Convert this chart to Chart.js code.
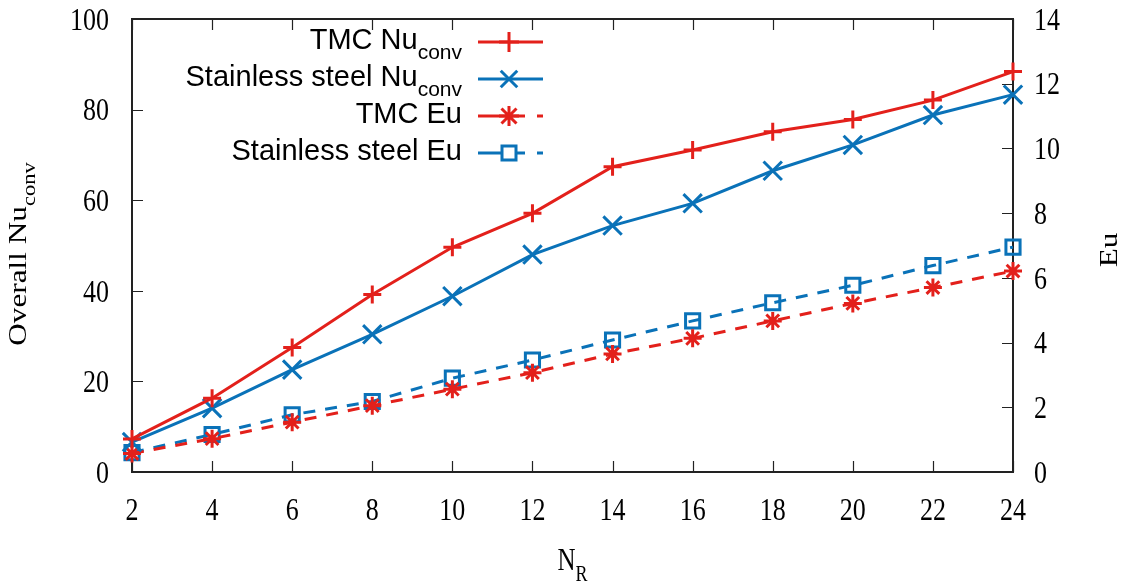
<!DOCTYPE html>
<html>
<head>
<meta charset="utf-8">
<script src="https://cdn.jsdelivr.net/npm/chart.js@4.4.1/dist/chart.umd.min.js"></script>
<style>
  html, body { margin: 0; padding: 0; background: #fff; }
  #wrap { width: 1130px; height: 581px; }
</style>
</head>
<body>
<div id="wrap"><canvas id="chart" width="1130" height="581"></canvas></div>
<script>
// data
const nr = [2, 4, 6, 8, 10, 12, 14, 16, 18, 20, 22, 24];
const tmcNu = [7.3, 16.3, 27.5, 39.2, 49.6, 57.1, 67.4, 71.1, 75.1, 77.8, 82.1, 88.4];
const steelNu = [6.6, 14.1, 22.6, 30.4, 38.8, 48.0, 54.4, 59.3, 66.5, 72.2, 78.8, 83.3];
const tmcEu = [0.57, 1.03, 1.54, 2.05, 2.56, 3.07, 3.65, 4.13, 4.67, 5.21, 5.70, 6.21];
const steelEu = [0.60, 1.16, 1.77, 2.18, 2.90, 3.46, 4.08, 4.67, 5.23, 5.77, 6.38, 6.95];
const leftTicks = [0, 20, 40, 60, 80, 100];
const rightTicks = [0, 2, 4, 6, 8, 10, 12, 14];

const RED = '#e3201b';
const BLUE = '#0a72b8';
const SERIF = '"Liberation Serif", "Times New Roman", serif';
const SANS = '"Liberation Sans", Arial, sans-serif';
const STRETCH = 1.22; // serif text in the figure is drawn a bit tall

const pts = (ys) => ys.map((y, i) => ({ x: nr[i], y: y }));

// legend entries: text parts, colour, marker, dashed
const legendItems = [
  { parts: [['TMC Nu', false], ['conv', true]], color: RED, marker: 'cross', dashed: false },
  { parts: [['Stainless steel Nu', false], ['conv', true]], color: BLUE, marker: 'crossRot', dashed: false },
  { parts: [['TMC Eu', false]], color: RED, marker: 'star', dashed: true },
  { parts: [['Stainless steel Eu', false]], color: BLUE, marker: 'rect', dashed: true }
];

// draw text with subscript pieces
function richText(ctx, parts, x, y, size, font, align) {
  const subSize = Math.round(size * 0.72);
  let w = 0;
  parts.forEach(p => {
    ctx.font = (p[1] ? subSize : size) + 'px ' + font;
    w += ctx.measureText(p[0]).width;
  });
  let cx = align === 'right' ? x - w : (align === 'center' ? x - w / 2 : x);
  ctx.textAlign = 'left';
  ctx.textBaseline = 'alphabetic';
  parts.forEach(p => {
    ctx.font = (p[1] ? subSize : size) + 'px ' + font;
    ctx.fillText(p[0], cx, p[1] ? y + size * 0.34 : y);
    cx += ctx.measureText(p[0]).width;
  });
}

// text placed at (x, y), optionally rotated, stretched along sx / sy
function placeText(ctx, parts, x, y, size, align, rot, sx, sy) {
  ctx.save();
  ctx.translate(x, y);
  if (rot) ctx.rotate(rot);
  ctx.scale(sx, sy);
  richText(ctx, parts, 0, 0, size, SERIF, align);
  ctx.restore();
}

function marker(ctx, style, x, y, r, color) {
  ctx.save();
  ctx.strokeStyle = color;
  ctx.lineWidth = 3;
  ctx.setLineDash([]);
  ctx.beginPath();
  if (style === 'cross' || style === 'star') {
    ctx.moveTo(x - r, y); ctx.lineTo(x + r, y);
    ctx.moveTo(x, y - r); ctx.lineTo(x, y + r);
  }
  if (style === 'crossRot' || style === 'star') {
    const d = r * 0.75;
    ctx.moveTo(x - d, y - d); ctx.lineTo(x + d, y + d);
    ctx.moveTo(x - d, y + d); ctx.lineTo(x + d, y - d);
  }
  if (style === 'rect') {
    ctx.fillStyle = '#fff';
    ctx.fillRect(x - 7, y - 7, 14, 14);
    ctx.rect(x - 7, y - 7, 14, 14);
  }
  ctx.stroke();
  ctx.restore();
}

const framePlugin = {
  id: 'frame',
  beforeDatasetsDraw(chart) {
    const ctx = chart.ctx;
    const a = chart.chartArea;
    const sx = chart.scales.x, sl = chart.scales.yL, sr = chart.scales.yR;
    ctx.save();
    ctx.strokeStyle = '#222';
    ctx.lineWidth = 1.2;
    ctx.beginPath();
    const tl = 11;
    nr.forEach(v => {
      const px = Math.round(sx.getPixelForValue(v)) + 0.5;
      ctx.moveTo(px, a.bottom); ctx.lineTo(px, a.bottom - tl);
      ctx.moveTo(px, a.top); ctx.lineTo(px, a.top + tl);
    });
    leftTicks.forEach(v => {
      const py = Math.round(sl.getPixelForValue(v)) + 0.5;
      ctx.moveTo(a.left, py); ctx.lineTo(a.left + tl, py);
    });
    rightTicks.forEach(v => {
      const py = Math.round(sr.getPixelForValue(v)) + 0.5;
      ctx.moveTo(a.right, py); ctx.lineTo(a.right - tl, py);
    });
    ctx.stroke();
    ctx.lineWidth = 2;
    ctx.strokeRect(a.left, a.top, a.right - a.left, a.bottom - a.top);
    ctx.restore();
  },
  afterDraw(chart) {
    const ctx = chart.ctx;
    const a = chart.chartArea;
    const sx = chart.scales.x, sl = chart.scales.yL, sr = chart.scales.yR;
    const half = 0.34 * 26 * STRETCH; // half digit height
    ctx.save();
    ctx.fillStyle = '#000';

    // tick labels
    nr.forEach(v => placeText(ctx, [[String(v), false]], sx.getPixelForValue(v), 520, 26, 'center', 0, 1, STRETCH));
    leftTicks.forEach(v => placeText(ctx, [[String(v), false]], 109, sl.getPixelForValue(v) + half, 26, 'right', 0, 1, STRETCH));
    rightTicks.forEach(v => placeText(ctx, [[String(v), false]], 1034, sr.getPixelForValue(v) + half, 26, 'left', 0, 1, STRETCH));

    // axis titles
    placeText(ctx, [['Overall Nu', false], ['conv', true]], 26, 254, 25, 'center', -Math.PI / 2, 1.25, 1);
    placeText(ctx, [['Eu', false]], 1117, 250, 26, 'center', -Math.PI / 2, 1.2, 1);
    placeText(ctx, [['N', false], ['R', true]], (a.left + a.right) / 2, 570, 25, 'center', 0, 1, 1.3);

    // legend
    legendItems.forEach((it, i) => {
      const ly = 42 + i * 37;
      ctx.fillStyle = '#000';
      richText(ctx, it.parts, 462, ly + 7, 29, SANS, 'right');
      ctx.strokeStyle = it.color;
      ctx.lineWidth = 3;
      ctx.beginPath();
      if (it.dashed) {
        ctx.moveTo(478, ly); ctx.lineTo(525, ly);
        ctx.moveTo(537, ly); ctx.lineTo(543, ly);
      } else {
        ctx.moveTo(478, ly); ctx.lineTo(543, ly);
      }
      ctx.stroke();
      marker(ctx, it.marker, 509, ly, it.marker === 'crossRot' ? 11 : 10, it.color);
    });
    ctx.restore();
  }
};

const common = { borderWidth: 3, pointBorderWidth: 3, clip: false, tension: 0, fill: false };

// fixed axis sizes, no label overflow padding
const fixY = (w) => (s) => { s.width = w; s.paddingTop = 0; s.paddingBottom = 0; };

new Chart(document.getElementById('chart'), {
  type: 'line',
  data: {
    datasets: [
      Object.assign({ label: 'TMC Nu_conv', data: pts(tmcNu), yAxisID: 'yL',
        borderColor: RED, pointStyle: 'cross', pointRadius: 9 }, common),
      Object.assign({ label: 'Stainless steel Nu_conv', data: pts(steelNu), yAxisID: 'yL',
        borderColor: BLUE, pointStyle: 'crossRot', pointRadius: 13 }, common),
      Object.assign({ label: 'TMC Eu', data: pts(tmcEu), yAxisID: 'yR',
        borderColor: RED, borderDash: [12, 10], pointStyle: 'star', pointRadius: 9 }, common),
      Object.assign({ label: 'Stainless steel Eu', data: pts(steelEu), yAxisID: 'yR',
        borderColor: BLUE, borderDash: [12, 10], pointStyle: 'rect', pointRadius: 10,
        pointBackgroundColor: 'rgba(255,255,255,0)' }, common)
    ]
  },
  options: {
    responsive: false,
    animation: false,
    layout: { padding: { top: 19, left: 0, right: 0, bottom: 0 } },
    plugins: { legend: { display: false }, tooltip: { enabled: false } },
    elements: { point: { borderColor: (c) => c.dataset.borderColor, backgroundColor: 'rgba(0,0,0,0)' } },
    scales: {
      x: {
        type: 'linear', min: 2, max: 24,
        afterFit: (s) => { s.height = 109; s.paddingLeft = 0; s.paddingRight = 0; },
        afterBuildTicks: (s) => { s.ticks = nr.map(v => ({ value: v })); },
        grid: { display: false, drawTicks: false },
        border: { display: false },
        ticks: { display: false }
      },
      yL: {
        position: 'left', min: 0, max: 100,
        afterFit: fixY(132),
        afterBuildTicks: (s) => { s.ticks = leftTicks.map(v => ({ value: v })); },
        grid: { display: false, drawTicks: false },
        border: { display: false },
        ticks: { display: false }
      },
      yR: {
        position: 'right', min: 0, max: 14,
        afterFit: fixY(117),
        afterBuildTicks: (s) => { s.ticks = rightTicks.map(v => ({ value: v })); },
        grid: { display: false, drawTicks: false },
        border: { display: false },
        ticks: { display: false }
      }
    }
  },
  plugins: [framePlugin]
});
</script>
</body>
</html>
